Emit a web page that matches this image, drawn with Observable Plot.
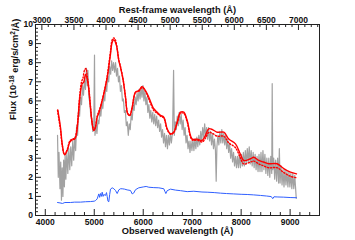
<!DOCTYPE html>
<html><head><meta charset="utf-8">
<script src="https://cdn.jsdelivr.net/npm/d3@7"></script>
<script src="https://cdn.jsdelivr.net/npm/@observablehq/plot@0.6"></script>
<style>body{margin:0;background:#fff}</style>
</head><body><div id="chart"></div>
<script>
// ---- data ----
const redshift = 0.31;
const obsTicks = [4000, 5000, 6000, 7000, 8000, 9000];
const restTicks = [3000, 3500, 4000, 4500, 5000, 5500, 6000, 6500, 7000];
const yTicks = [0, 1, 2, 3, 4, 5, 6, 7, 8, 9, 10];

// observed spectrum (grey)
const grayWave = [4250,4265,4280,4300,4315,4330,4345,4360,4375,4390,4405,4420,4440,4460,4480,4500,4520,4540,4560,4580,4600,4620,4640,4660,4680,4700,4720,4740,4760,4780,4800,4820,4840,4860,4870,4890,4910,4930,4950,4970,4990,5005,5015,5035,5055,5075,5095,5115,5135,5155,5175,5195,5215,5235,5255,5275,5295,5315,5335,5355,5375,5395,5415,5435,5455,5475,5495,5515,5535,5555,5575,5595,5615,5635,5655,5675,5695,5715,5735,5755,5775,5795,5815,5835,5855,5875,5895,5915,5935,5955,5975,5995,6015,6035,6055,6075,6095,6115,6135,6155,6175,6195,6215,6235,6255,6275,6295,6315,6335,6355,6375,6395,6415,6435,6455,6475,6495,6515,6535,6555,6575,6600,6620,6635,6655,6675,6695,6715,6735,6755,6775,6795,6815,6835,6855,6875,6895,6915,6935,6955,6975,6995,7015,7035,7055,7075,7095,7115,7135,7155,7175,7195,7215,7235,7255,7275,7295,7315,7335,7355,7375,7395,7415,7435,7455,7475,7490,7505,7525,7545,7565,7585,7605,7625,7645,7665,7685,7705,7725,7745,7765,7785,7805,7825,7845,7865,7885,7905,7925,7945,7965,7985,8005,8025,8045,8065,8085,8105,8125,8145,8165,8185,8205,8225,8245,8265,8285,8305,8325,8345,8365,8385,8405,8425,8445,8465,8485,8505,8525,8545,8565,8585,8605,8625,8634,8645,8665,8685,8705,8725,8745,8765,8780,8795,8815,8835,8855,8875,8895,8915,8935,8955,8975,8995,9015,9035,9055,9075,9095,9110,9125];
const grayFlux = [4.2,2.0,3.3,1.4,2.8,0.8,2.5,1.0,2.9,1.5,3.2,1.9,3.3,2.2,3.5,2.4,3.6,2.6,3.9,2.9,4.1,3.4,4.7,4.2,5.6,5.2,6.2,5.8,6.8,6.3,7.1,6.6,7.7,6.8,7.6,6.2,5.9,5.2,5.0,4.4,4.6,8.4,4.2,4.7,4.3,5.0,4.8,5.5,5.2,5.9,5.6,6.3,6.0,6.8,6.5,7.3,7.0,7.8,7.4,8.1,7.6,8.0,7.5,8.0,7.3,7.7,7.0,7.3,6.5,6.8,6.0,6.1,5.4,5.5,4.7,4.9,4.2,4.8,4.5,5.3,5.0,5.8,5.5,6.2,5.8,6.4,6.0,6.6,6.1,6.7,6.2,6.8,6.0,6.5,5.8,6.2,5.4,5.8,5.1,5.5,4.9,5.4,4.8,5.3,4.7,5.2,4.6,5.0,4.4,4.8,4.1,4.5,3.8,4.3,3.6,4.2,3.5,4.2,3.7,4.3,3.8,4.4,7.6,4.2,4.9,4.5,5.2,4.7,5.4,4.8,5.3,4.5,5.0,4.2,4.6,3.8,4.2,3.5,3.9,3.3,3.9,3.4,4.0,3.4,4.0,3.5,4.1,3.6,4.2,3.7,4.4,3.9,4.6,4.1,4.8,4.1,4.6,4.0,4.6,3.9,4.4,3.7,4.3,3.5,4.0,3.4,1.8,3.6,4.2,3.7,4.4,3.8,4.5,3.8,4.3,3.7,4.2,3.5,4.0,3.3,3.8,3.0,3.5,2.8,3.3,2.6,3.1,2.5,3.1,2.5,3.2,2.5,3.2,2.6,3.3,2.6,3.4,2.7,3.5,2.8,3.6,2.7,3.4,2.6,3.3,2.5,3.2,2.4,3.1,2.3,3.2,2.3,3.3,2.3,3.4,2.4,3.2,2.2,3.0,2.1,3.0,2.0,3.1,2.2,6.9,2.4,3.0,1.9,2.9,1.8,3.0,1.7,3.5,1.7,2.6,1.6,2.4,1.5,2.4,1.6,2.3,1.5,2.3,1.5,2.2,1.4,2.2,1.4,2.1,1.5,0.9];

// model fit (red solid)
const modelWave = [4255,4310,4345,4392,4447,4500,4549,4603,4637,4672,4705,4754,4786,4821,4856,4888,4923,4958,4990,5025,5060,5093,5127,5195,5264,5332,5366,5399,5454,5501,5536,5591,5638,5684,5726,5775,5842,5909,5979,6046,6114,6216,6285,6353,6420,6489,6557,6624,6693,6761,6828,6898,7000,7102,7204,7271,7339,7414,7510,7645,7747,7884,7986,8053,8190,8258,8360,8456,8564,8735,8870,9007,9130];
const modelFlux = [5.53,4.62,3.75,3.18,3.4,3.84,3.96,4.0,4.28,5.15,6.2,6.9,6.98,7.38,7.16,6.63,5.67,4.8,4.45,4.62,5.15,5.35,5.67,6.37,7.2,8.46,9.07,9.2,8.9,8.12,7.76,7.07,6.19,5.32,5.24,5.67,6.46,6.54,6.75,6.54,6.19,5.59,5.41,5.24,5.15,4.54,4.28,4.36,4.88,5.41,5.41,4.97,4.0,4.0,3.93,4.2,4.54,4.5,4.36,4.36,4.0,3.75,3.2,2.88,2.97,3.05,2.88,2.8,2.71,2.71,2.45,2.27,2.18];

// second model (red dotted)
const model2Wave = [4250,4280,4310,4345,4392,4447,4500,4549,4603,4637,4672,4705,4740,4770,4800,4830,4856,4888,4923,4958,4990,5025,5060,5127,5195,5264,5332,5366,5399,5430,5454,5501,5536,5591,5638,5684,5726,5775,5842,5909,5979,6046,6114,6216,6285,6353,6420,6489,6557,6624,6693,6761,6828,6898,7000,7102,7204,7271,7339,7414,7510,7645,7747,7884,7986,8053,8190,8258,8360,8456,8564,8735,8870,9007,9130];
const model2Flux = [5.5,5.0,4.5,3.7,3.2,3.45,3.9,4.0,4.05,4.4,5.2,6.3,7.0,7.2,7.6,7.7,7.3,6.7,5.7,4.85,4.45,4.65,5.2,5.7,6.4,7.3,8.6,9.2,9.3,9.2,8.95,8.15,7.8,7.1,6.2,5.35,5.25,5.65,6.45,6.5,6.7,6.5,6.1,5.5,5.35,5.2,5.1,4.5,4.25,4.35,4.85,5.35,5.35,4.9,3.95,3.95,3.85,4.05,4.35,4.3,4.15,4.15,3.8,3.55,3.0,2.7,2.8,2.85,2.7,2.6,2.5,2.5,2.25,2.05,1.98];

// template (blue)
const templateWave = [4250,4300,4351,4400,4515,4600,4719,4820,4923,5000,5025,5060,5093,5110,5127,5145,5162,5180,5195,5229,5250,5264,5280,5297,5315,5332,5366,5400,5434,5468,5501,5536,5570,5620,5672,5740,5775,5807,5842,5909,6011,6060,6114,6216,6318,6420,6445,6462,6489,6557,6660,6761,6898,7033,7200,7306,7450,7578,7700,7849,8000,8123,8250,8395,8520,8615,8645,8670,8750,8870,9000,9130];
const templateFlux = [0.68,0.66,0.63,0.68,0.68,0.7,0.7,0.72,0.73,0.75,0.78,0.87,1.13,0.95,1.15,1.0,1.22,1.0,1.1,1.05,1.2,1.0,0.75,0.72,1.1,1.38,1.45,1.4,1.31,1.15,1.34,1.4,1.4,1.38,1.34,1.31,1.13,1.18,1.35,1.45,1.5,1.52,1.48,1.46,1.45,1.4,1.25,1.15,1.3,1.38,1.33,1.3,1.25,1.27,1.23,1.22,1.2,1.17,1.15,1.13,1.11,1.1,1.08,1.05,1.02,0.99,0.88,0.98,0.97,0.96,0.94,0.93];

// ---- chart ----
const W = 355, H = 240, mL = 35, mR = 36, mT = 24, mB = 25;
const frameW = W - mL - mR, frameH = H - mT - mB;
const major = 6, minor = 3;
const ink = "#222";
const font = {fontFamily: "'Liberation Sans', Arial, 'DejaVu Sans', sans-serif", fontWeight: "bold", fill: "#111"};
const zip = (ws, fs) => ws.map((w, i) => ({w, f: fs[i]}));
const obsMinor = d3.range(3800, 9601, 200).filter(v => !obsTicks.includes(v));
const restMinor = d3.range(2900, 7400, 100).filter(v => v % 500 !== 0);
const yMinor = d3.range(0, 50).map(i => i / 5).filter(v => v % 1 !== 0);
const toObs = r => r * (1 + redshift);

const chart = Plot.plot({
  width: W, height: H,
  marginLeft: mL, marginRight: mR, marginTop: mT, marginBottom: mB,
  x: {domain: [3800, 9600], axis: null},
  y: {domain: [0, 10], axis: null},
  style: {background: "#fff", overflow: "visible"},
  marks: [
    Plot.line(zip(grayWave, grayFlux), {x: "w", y: "f", stroke: "#a2a2a2", strokeWidth: 1.2}),
    Plot.line(zip(templateWave, templateFlux), {x: "w", y: "f", stroke: "#2f5fff", strokeWidth: 1}),
    Plot.line(zip(model2Wave, model2Flux), {x: "w", y: "f", stroke: "#ff0000", strokeWidth: 1.4, strokeDasharray: "1.2,1.8", curve: "catmull-rom"}),
    Plot.line(zip(modelWave, modelFlux), {x: "w", y: "f", stroke: "#ff0000", strokeWidth: 1.4, curve: "catmull-rom"}),
    Plot.frame({stroke: ink, strokeWidth: 1}),
    Plot.tickX(obsTicks, {x: d => d, insetTop: frameH - major, stroke: ink}),
    Plot.tickX(obsMinor, {x: d => d, insetTop: frameH - minor, stroke: ink}),
    Plot.tickX(restTicks, {x: toObs, insetBottom: frameH - major, stroke: ink}),
    Plot.tickX(restMinor, {x: toObs, insetBottom: frameH - minor, stroke: ink}),
    Plot.tickY(yTicks, {y: d => d, insetRight: frameW - major, stroke: ink}),
    Plot.tickY(yMinor, {y: d => d, insetRight: frameW - minor, stroke: ink}),
    Plot.text(obsTicks, {x: d => d, text: d => String(d), frameAnchor: "bottom", dy: 9.5, fontSize: 8.5, ...font}),
    Plot.text(restTicks, {x: toObs, text: d => String(d), frameAnchor: "top", dy: -8, fontSize: 8.5, ...font}),
    Plot.text(yTicks, {y: d => d, text: d => String(d), frameAnchor: "left", dx: -2.5, textAnchor: "end", fontSize: 8.5, ...font}),
    Plot.text(["Observed wavelength (Å)"], {text: d => d, frameAnchor: "bottom", dy: 18, fontSize: 9.3, ...font}),
    Plot.text(["Rest-frame wavelength (Å)"], {text: d => d, frameAnchor: "top", dy: -18, fontSize: 9.3, ...font}),
    Plot.text(["Flux (10-18 erg/s/cm2/Å)"], {text: d => d, frameAnchor: "left", dx: -22, rotate: -90, fontSize: 9.3, ...font})
  ]
});
// typeset the superscripts of the flux unit label
d3.select(chart).selectAll("text").filter(function() { return this.textContent.startsWith("Flux"); })
  .each(function() {
    const t = d3.select(this);
    const target = t.select("tspan").empty() ? t : t.select("tspan");
    target.text(null);
    target.append("tspan").text("Flux (10");
    target.append("tspan").attr("dy", "-0.4em").attr("font-size", "6.5").text("-18");
    target.append("tspan").attr("dy", "0.4em").text(" erg/s/cm");
    target.append("tspan").attr("dy", "-0.4em").attr("font-size", "6.5").text("2");
    target.append("tspan").attr("dy", "0.4em").text("/Å)");
  });
document.getElementById("chart").appendChild(chart);
</script>
</body></html>
